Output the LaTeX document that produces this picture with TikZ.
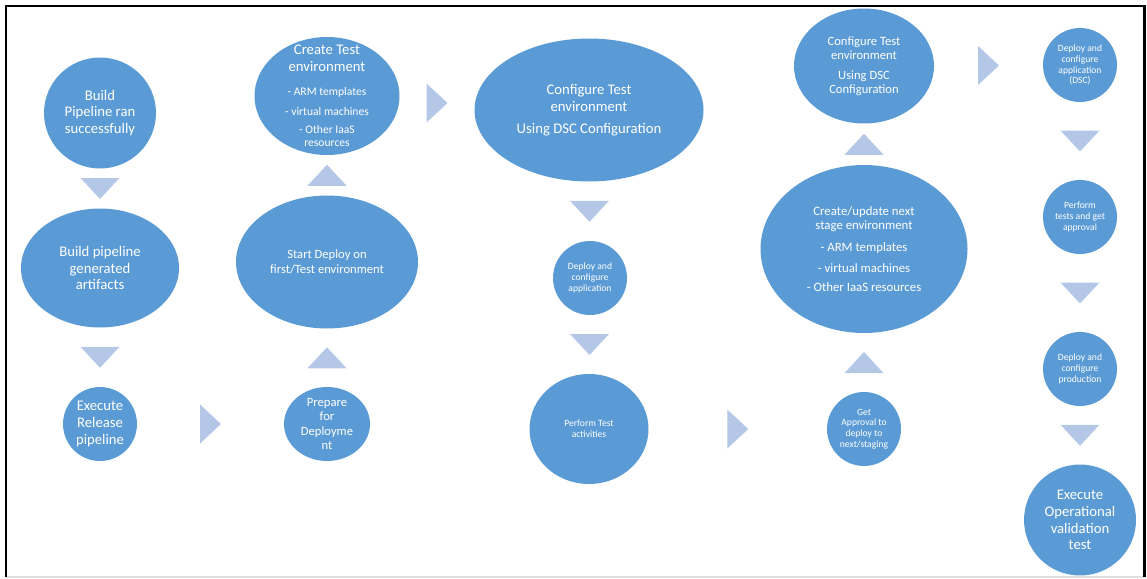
\documentclass[tikz,border=0pt]{standalone}
\usepackage{fontspec}
\setmainfont{Carlito}
\usetikzlibrary{shapes.geometric,calc}

\definecolor{stageblue}{HTML}{5B9BD5}
\definecolor{flowblue}{HTML}{B4C7E7}

\newcommand{\bigsize}{\fontsize{14.7}{16.7}\selectfont}
\newcommand{\midsize}{\fontsize{12.6}{14.3}\selectfont}
\newcommand{\nextsize}{\fontsize{12.8}{14.7}\selectfont}
\newcommand{\itemsize}{\fontsize{11.6}{13.3}\selectfont}
\newcommand{\smallsize}{\fontsize{9.6}{10.7}\selectfont}

\begin{document}
\begin{tikzpicture}[x=1pt, y=-1pt,
        stage/.style={ellipse, fill=stageblue, text=white, align=center, inner sep=-15pt},
        flow/.style={fill=flowblue}]
    \useasboundingbox (0,0) rectangle (1147,578);
    % frame
    \draw[black!12, line width=1.6pt] (6,577) -- (1145,577);
    \draw[line width=2.2pt] (6,577) -- (6,6) -- (1144.5,6) -- (1144.5,577);

    % first column
    \node[stage, minimum width=112, minimum height=111, font=\bigsize] (built) at (100,113) {Build\\Pipeline ran\\successfully};
    \node[stage, minimum width=158, minimum height=119, font=\bigsize] (artifacts) at (100,268) {Build pipeline\\generated\\artifacts};
    \node[stage, minimum width=74, minimum height=74, font=\bigsize] (release) at (100,424) {Execute\\Release\\pipeline};

    % second column
    \node[stage, minimum width=86, minimum height=74, font=\midsize] (prepare) at (327,424) {Prepare\\for\\Deployme\\nt};
    \node[stage, minimum width=182, minimum height=133, font=\midsize] (deploy) at (327,262) {Start Deploy on\\first/Test environment};
    \node[stage, minimum width=145, minimum height=118, font=\bigsize] (createenv) at (327,96)
        {\bigsize Create Test\\\bigsize environment\\[7.3pt]\itemsize - ARM templates\\[3.3pt]\itemsize - virtual machines\\[1.6pt]\itemsize - Other IaaS\\[-3.4pt]\itemsize resources};

    % third column
    \node[stage, minimum width=229, minimum height=143, font=\bigsize] (configenv) at (589,110) {Configure Test\\environment\\[5.6pt]Using DSC Configuration};
    \node[stage, minimum width=74, minimum height=74, font=\smallsize] (deployapp) at (590,278) {Deploy and\\configure\\application};
    \node[stage, minimum width=119, minimum height=110, font=\smallsize] (perftest) at (589,429) {Perform Test\\activities};

    % fourth column
    \node[stage, minimum width=74, minimum height=74, font=\smallsize] (approval) at (864,429) {Get\\Approval to\\deploy to\\next/staging};
    \node[stage, minimum width=207, minimum height=168, font=\nextsize] (nextenv) at (864,249)
        {Create/update next\\stage environment\\[7.3pt]- ARM templates\\[5.6pt]- virtual machines\\[5pt]- Other IaaS resources};
    \node[stage, minimum width=140, minimum height=115, font=\midsize] (confignext) at (864,66) {Configure Test\\environment\\[5.4pt]Using DSC\\Configuration};

    % last column
    \node[stage, minimum width=74, minimum height=74, font=\smallsize] (deploydsc) at (1080,65) {Deploy and\\configure\\application\\(DSC)};
    \node[stage, minimum width=74, minimum height=74, font=\smallsize] (perfapprove) at (1080,217) {Perform\\tests and get\\approval};
    \node[stage, minimum width=74, minimum height=74, font=\smallsize] (deployprod) at (1080,369) {Deploy and\\configure\\production};
    \node[stage, minimum width=112, minimum height=111, font=\bigsize] (opvalid) at (1080,520) {Execute\\Operational\\validation\\test};

    % flow triangles
    \foreach \a/\b in {built/artifacts, artifacts/release, configenv/deployapp, deployapp/perftest,
            deploydsc/perfapprove, perfapprove/deployprod, deployprod/opvalid}
        \fill[flow] ($(\a.south)!0.5!(\b.north)$) +(-19.5,-10.5) -- +(19.5,-10.5) -- +(0,10.5) -- cycle;
    \foreach \a/\b in {prepare/deploy, deploy/createenv, approval/nextenv, nextenv/confignext}
        \fill[flow] ($(\a.north)!0.5!(\b.south)$) +(-19.5,10.5) -- +(19.5,10.5) -- +(0,-10.5) -- cycle;
    \foreach \a/\b in {release/prepare, createenv/configenv, perftest/approval, confignext/deploydsc}
        \fill[flow] ($(\a.east)!0.5!(\b.west)$) +(-10.5,-19.5) -- +(-10.5,19.5) -- +(10.5,0) -- cycle;
\end{tikzpicture}
\end{document}
